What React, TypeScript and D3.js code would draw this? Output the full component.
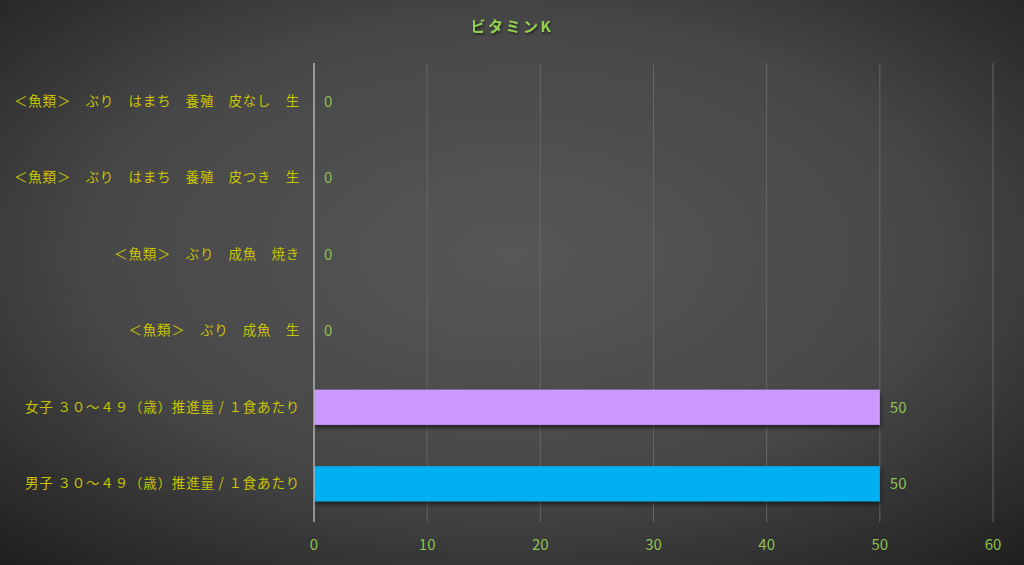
import React from "react";
import * as d3 from "d3";

const title = "ビタミンK";
const categories = [
  "＜魚類＞　ぶり　はまち　養殖　皮なし　生",
  "＜魚類＞　ぶり　はまち　養殖　皮つき　生",
  "＜魚類＞　ぶり　成魚　焼き",
  "＜魚類＞　ぶり　成魚　生",
  "女子 ３０～４９（歳）推進量 / １食あたり",
  "男子 ３０～４９（歳）推進量 / １食あたり",
];
const values = [0, 0, 0, 0, 50, 50];
const barColors = ["#4472C4", "#4472C4", "#4472C4", "#4472C4", "#CC99FF", "#00B0F0"];
const ticks = [0, 10, 20, 30, 40, 50, 60];

const W = 1024;
const H = 565;
const M = { left: 314, right: 31, top: 63, bottom: 43 };

export default function App() {
  const x = d3.scaleLinear().domain([0, 60]).range([M.left, W - M.right]);
  const y = d3
    .scaleBand<string>()
    .domain(categories)
    .range([M.top, H - M.bottom])
    .paddingInner(0.54)
    .paddingOuter(0.27);
  const font = "'Noto Sans CJK JP', 'Noto Sans', sans-serif";
  return (
    <svg
      width={W}
      height={H}
      style={{ position: "absolute", left: 0, top: 0 }}
      fontFamily={font}
    >
      <defs>
        <radialGradient id="bg" cx="50%" cy="45%" r="75%">
          <stop offset="0%" stopColor="#575757" />
          <stop offset="55%" stopColor="#474747" />
          <stop offset="100%" stopColor="#1e1e1e" />
        </radialGradient>
        <filter id="sh" x="-5%" y="-20%" width="110%" height="160%">
          <feDropShadow dx="1" dy="3" stdDeviation="2" floodColor="#000" floodOpacity="0.55" />
        </filter>
        <filter id="tsh" x="-10%" y="-30%" width="120%" height="160%">
          <feDropShadow dx="1" dy="1.5" stdDeviation="1" floodColor="#000" floodOpacity="0.6" />
        </filter>
      </defs>
      <rect x={0} y={0} width={W} height={H} fill="url(#bg)" />
      <text
        x={W / 2}
        y={27}
        dy="0.35em"
        textAnchor="middle"
        fill="#92D050"
        fontSize={15}
        letterSpacing={2.5}
        fontWeight="bold"
        filter="url(#tsh)"
      >
        {title}
      </text>
      {ticks.map((t) =>
        t === 0 ? null : (
          <line
            key={"g" + t}
            x1={x(t)}
            x2={x(t)}
            y1={M.top}
            y2={H - M.bottom}
            stroke="#656565"
            strokeWidth={1}
          />
        )
      )}
      {categories.map((c, i) => {
        const yy = y(c)!;
        const bw = y.bandwidth();
        return (
          <g key={c}>
            {values[i] > 0 && (
              <rect
                x={x(0)}
                y={yy}
                width={x(values[i]) - x(0)}
                height={bw}
                fill={barColors[i]}
                filter="url(#sh)"
              />
            )}
            <text
              x={x(values[i]) + 10}
              y={yy + bw / 2}
              dy="0.35em"
              fill="#8CC152"
              fontSize={15}
            >
              {values[i]}
            </text>
            <text
              x={M.left - 14}
              y={yy + bw / 2}
              dy="0.35em"
              textAnchor="end"
              fill="#C8C400"
              fontSize={13.5}
              letterSpacing={0.8}
            >
              {c}
            </text>
          </g>
        );
      })}
      <line x1={x(0)} x2={x(0)} y1={M.top} y2={H - M.bottom} stroke="#B0B0B0" strokeWidth={1.5} />
      {ticks.map((t) => (
        <text
          key={"t" + t}
          x={x(t)}
          y={545}
          dy="0.35em"
          textAnchor="middle"
          fill="#8CC152"
          fontSize={15}
        >
          {t}
        </text>
      ))}
    </svg>
  );
}
